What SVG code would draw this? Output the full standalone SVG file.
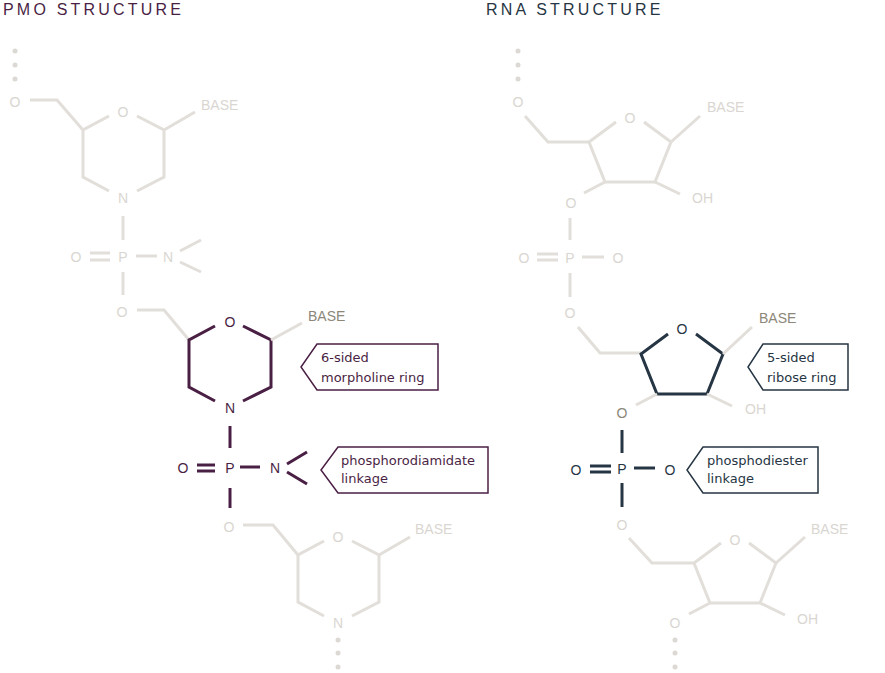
<svg xmlns="http://www.w3.org/2000/svg" width="885" height="673" viewBox="0 0 885 673">
<style>
.g{stroke:#e2dfda;stroke-width:3;fill:none;stroke-linecap:butt}
.pu{stroke:#4a1f44;stroke-width:3;fill:none}
.nv{stroke:#263543;stroke-width:3;fill:none}
text{font-family:"Liberation Sans",Arial,sans-serif;font-size:14px}
.a{text-anchor:middle;dominant-baseline:central}
.lg{fill:#d9d6d1}
.dg{fill:#8c8779}
.tp{fill:#4a1f44}
.tn{fill:#263543}
.lb{font-family:"DejaVu Sans",sans-serif;font-size:13px}
.dot{fill:#dcd9d4}
</style>
<text x="3" y="15" class="tp" style="font-size:16px;letter-spacing:3.2px">PMO STRUCTURE</text>
<text x="486" y="15" class="tn" style="font-size:16px;letter-spacing:3.2px">RNA STRUCTURE</text>

<g id="connectors">
<!-- PMO unit 1 -->
<circle class="dot" cx="15" cy="51" r="2.5"/><circle class="dot" cx="15" cy="65" r="2.5"/><circle class="dot" cx="15" cy="79" r="2.5"/>
<polyline class="g" points="30,100 57,100 83,130"/>
<polyline class="g" points="109,116 83,130 83,177 109,191"/>
<polyline class="g" points="137,116 164,130 164,177 137,191"/>
<line class="g" x1="164" y1="130" x2="195" y2="112"/>
<line class="g" x1="123" y1="216" x2="123" y2="240"/>
<line class="g" x1="90" y1="253" x2="110" y2="253"/><line class="g" x1="90" y1="260" x2="110" y2="260"/>
<line class="g" x1="136" y1="256" x2="157" y2="256"/>
<line class="g" x1="180" y1="251" x2="201" y2="240"/><line class="g" x1="180" y1="262" x2="201" y2="272"/>
<line class="g" x1="123" y1="272" x2="123" y2="295"/>
<polyline class="g" points="137,310 164,310 189,340"/>
<!-- PMO unit 2 -->
<polyline class="pu" points="215,326 189,340 189,387 215,401"/>
<polyline class="pu" points="243,326 271,340 271,387 243,401"/>
<line class="g" x1="271" y1="340" x2="302" y2="323"/>
<line class="pu" x1="230" y1="426" x2="230" y2="448"/>
<line class="pu" x1="197" y1="465" x2="215" y2="465"/><line class="pu" x1="197" y1="471" x2="215" y2="471"/>
<line class="pu" x1="240" y1="467" x2="260" y2="467"/>
<line class="pu" x1="287" y1="464" x2="307" y2="452"/><line class="pu" x1="287" y1="472" x2="307" y2="484"/>
<line class="pu" x1="230" y1="488" x2="230" y2="508"/>
<polyline class="g" points="243,525 273,525 298,555"/>
<!-- PMO unit 3 -->
<polyline class="g" points="324,541 298,555 298,602 324,616"/>
<polyline class="g" points="352,541 379,555 379,602 352,616"/>
<line class="g" x1="379" y1="555" x2="410" y2="537"/>
<circle class="dot" cx="338" cy="640" r="2.5"/><circle class="dot" cx="338" cy="653" r="2.5"/><circle class="dot" cx="338" cy="667" r="2.5"/>

<!-- RNA unit 1 -->
<circle class="dot" cx="518" cy="51" r="2.5"/><circle class="dot" cx="518" cy="65" r="2.5"/><circle class="dot" cx="518" cy="79" r="2.5"/>
<polyline class="g" points="525,116 548,142 589,142"/>
<polyline class="g" points="616,122 589,142 605,182 655,182 671,142 644,122"/>
<line class="g" x1="671" y1="142" x2="700" y2="116"/>
<line class="g" x1="655" y1="182" x2="680" y2="194"/>
<line class="g" x1="605" y1="182" x2="584" y2="193"/>
<line class="g" x1="570" y1="218" x2="570" y2="240"/>
<line class="g" x1="537" y1="254" x2="558" y2="254"/><line class="g" x1="537" y1="260" x2="558" y2="260"/>
<line class="g" x1="582" y1="257" x2="604" y2="257"/>
<line class="g" x1="570" y1="273" x2="570" y2="297"/>
<polyline class="g" points="578,327 600,353 641,353"/>
<!-- RNA unit 2 -->
<polyline class="nv" points="668,334 641,354 657,394 707,394 723,354 696,334"/>
<line class="g" x1="723" y1="354" x2="752" y2="327"/>
<line class="g" x1="707" y1="394" x2="732" y2="406"/>
<line class="g" x1="657" y1="394" x2="636" y2="405"/>
<line class="nv" x1="622" y1="430" x2="622" y2="453"/>
<line class="nv" x1="590" y1="466" x2="611" y2="466"/><line class="nv" x1="590" y1="472" x2="611" y2="472"/>
<line class="nv" x1="634" y1="468" x2="655" y2="468"/>
<line class="nv" x1="622" y1="483" x2="622" y2="507"/>
<polyline class="g" points="629,538 652,563 694,563"/>
<!-- RNA unit 3 -->
<polyline class="g" points="721,543 694,563 710,603 760,603 776,563 749,543"/>
<line class="g" x1="776" y1="563" x2="805" y2="537"/>
<line class="g" x1="760" y1="603" x2="785" y2="615"/>
<line class="g" x1="710" y1="603" x2="689" y2="614"/>
<circle class="dot" cx="675" cy="640" r="2.5"/><circle class="dot" cx="675" cy="653" r="2.5"/><circle class="dot" cx="675" cy="667" r="2.5"/>
</g>

<g id="pmo-unit1" class="lg">
<text x="15" y="102" class="a">O</text>
<text x="123" y="112" class="a">O</text>
<text x="123" y="198" class="a">N</text>
<text x="201" y="110">BASE</text>
<text x="123" y="257" class="a">P</text>
<text x="76" y="257" class="a">O</text>
<text x="168" y="257" class="a">N</text>
<text x="122" y="312" class="a">O</text>
</g>
<g id="pmo-unit2">
<text x="230" y="322" class="a tp">O</text>
<text x="230" y="408" class="a tp">N</text>
<text x="308" y="321" class="dg">BASE</text>
<text x="183" y="468" class="a tp">O</text>
<text x="230" y="468" class="a tp">P</text>
<text x="275" y="468" class="a tp">N</text>
</g>
<g id="pmo-unit3" class="lg">
<text x="229" y="527" class="a">O</text>
<text x="338" y="537" class="a">O</text>
<text x="338" y="623" class="a">N</text>
<text x="415" y="534">BASE</text>
</g>
<g id="label-morpholine">
<polygon points="317,344 438,344 438,390 317,390 301,367" fill="#fff" stroke="#4a1f44" stroke-width="1.5"/>
<text x="321" y="362" class="lb tp">6-sided</text>
<text x="321" y="382" class="lb tp">morpholine ring</text>
</g>
<g id="label-phosphorodiamidate">
<polygon points="338,447 488,447 488,493 338,493 321,470" fill="#fff" stroke="#4a1f44" stroke-width="1.5"/>
<text x="341" y="465" class="lb tp">phosphorodiamidate</text>
<text x="341" y="483" class="lb tp">linkage</text>
</g>

<g id="rna-unit1" class="lg">
<text x="518" y="102" class="a">O</text>
<text x="630" y="118" class="a">O</text>
<text x="707" y="112">BASE</text>
<text x="692" y="203">OH</text>
<text x="571" y="203" class="a">O</text>
<text x="570" y="258" class="a">P</text>
<text x="524" y="258" class="a">O</text>
<text x="618" y="258" class="a">O</text>
<text x="570" y="313" class="a">O</text>
</g>
<g id="rna-unit2">
<text x="682" y="329" class="a tn">O</text>
<text x="759" y="323" class="dg">BASE</text>
<text x="745" y="414" class="lg">OH</text>
<text x="622" y="413" class="a dg">O</text>
<text x="576" y="470" class="a tn">O</text>
<text x="622" y="469" class="a tn">P</text>
<text x="670" y="470" class="a tn">O</text>
</g>
<g id="rna-unit3" class="lg">
<text x="622" y="525" class="a">O</text>
<text x="735" y="540" class="a">O</text>
<text x="811" y="534">BASE</text>
<text x="797" y="624">OH</text>
<text x="675" y="623" class="a">O</text>
</g>
<g id="label-ribose">
<polygon points="763,344 848,344 848,390 763,390 748,367" fill="#fff" stroke="#263543" stroke-width="1.5"/>
<text x="767" y="362" class="lb tn">5-sided</text>
<text x="767" y="382" class="lb tn">ribose ring</text>
</g>
<g id="label-phosphodiester">
<polygon points="703,447 818,447 818,493 703,493 687,470" fill="#fff" stroke="#263543" stroke-width="1.5"/>
<text x="707" y="465" class="lb tn">phosphodiester</text>
<text x="707" y="483" class="lb tn">linkage</text>
</g>
</svg>
